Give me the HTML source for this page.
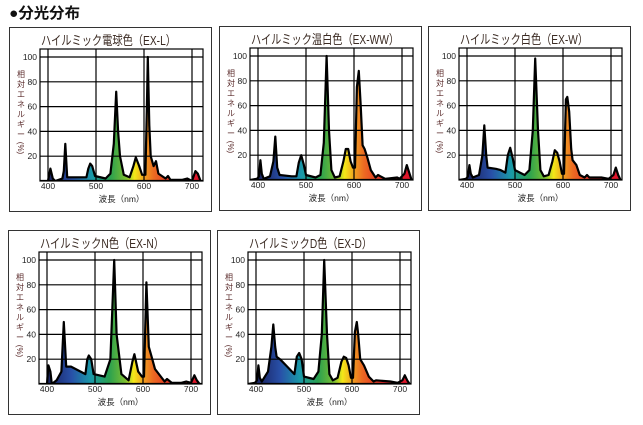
<!DOCTYPE html>
<html><head><meta charset="utf-8">
<style>
html,body{margin:0;padding:0;background:#fff;width:643px;height:425px;overflow:hidden}
svg{display:block}
text{font-family:"Liberation Sans","Noto Sans CJK JP",sans-serif}
</style></head><body>
<svg id="s" width="643" height="425" xmlns="http://www.w3.org/2000/svg" xmlns:xlink="http://www.w3.org/1999/xlink">
<defs>
<linearGradient id="sp" x1="383" x2="723" y1="0" y2="0" gradientUnits="userSpaceOnUse">
<stop offset="0" stop-color="#1a1f55"/>
<stop offset="0.09" stop-color="#1d2c70"/>
<stop offset="0.2" stop-color="#2850a8"/>
<stop offset="0.32" stop-color="#1a9aa8"/>
<stop offset="0.43" stop-color="#2aa050"/>
<stop offset="0.53" stop-color="#7cc030"/>
<stop offset="0.58" stop-color="#f4e818"/>
<stop offset="0.64" stop-color="#f0a020"/>
<stop offset="0.7" stop-color="#ec6a22"/>
<stop offset="0.82" stop-color="#e02828"/>
<stop offset="1" stop-color="#e0102a"/>
</linearGradient>
</defs>
<text x="9" y="18" font-size="15" font-weight="bold" fill="#111" textLength="71" lengthAdjust="spacingAndGlyphs">●分光分布</text>
</svg>
<script>
var S=document.getElementById('s'),NS='http://www.w3.org/2000/svg';
function el(t,a,p){var e=document.createElementNS(NS,t);for(var k in a)e.setAttribute(k,a[k]);(p||S).appendChild(e);return e;}
function txt(x,y,s,a,p){a=a||{};a.x=x;a.y=y;var e=el('text',a,p);e.textContent=s;return e;}
var panels=[
[9,27,"ハイルミック電球色（EX-L）",135,[[383,0],[400,0],[405,10],[410,2],[415,0],[430,2],[433,8],[436,30],[440,3],[480,3],[484,10],[488,14],[492,12],[498,4],[520,2],[530,6],[537,30],[542,72],[546,40],[550,20],[558,5],[570,3],[578,12],[583,19],[590,12],[596,5],[603,5],[606,60],[608,100],[611,45],[614,20],[620,12],[625,16],[630,6],[645,2],[650,4],[655,1],[680,1],[690,2],[700,0],[707,8],[712,6],[718,0],[723,0]]],
[219,26,"ハイルミック温白色（EX-WW）",148,[[383,0],[398,1],[402,3],[405,16],[408,5],[412,1],[425,3],[432,15],[436,35],[440,10],[445,4],[470,3],[480,3],[485,14],[490,20],[495,13],[500,4],[520,2],[530,4],[537,30],[543,100],[548,40],[553,8],[560,2],[570,3],[578,15],[583,25],[588,25],[593,15],[598,10],[602,10],[606,75],[610,88],[614,60],[618,28],[622,25],[628,18],[635,8],[645,2],[650,4],[655,3],[665,1],[690,2],[695,1],[705,5],[710,12],[715,6],[720,0],[723,0]]],
[428,26,"ハイルミック白色（EX-W）",128,[[383,0],[398,1],[402,3],[405,12],[408,5],[412,2],[425,4],[432,20],[436,44],[440,20],[443,10],[460,9],[470,8],[480,6],[485,20],[490,26],[495,18],[500,8],[520,4],[530,8],[537,40],[542,98],[548,40],[553,8],[560,3],[570,4],[578,15],[583,24],[588,22],[593,15],[598,5],[602,5],[606,65],[609,67],[613,55],[617,25],[620,16],[628,12],[635,4],[645,2],[650,4],[655,2],[680,2],[695,1],[705,4],[710,10],[715,4],[720,0],[723,0]]],
[8,230,"ハイルミックN色（EX-N）",124,[[383,0],[400,0],[403,15],[407,10],[410,0],[420,3],[430,10],[435,50],[440,14],[450,14],[470,10],[480,8],[484,20],[487,23],[492,20],[497,8],[520,6],[532,20],[540,100],[545,40],[555,8],[570,3],[578,18],[582,24],[590,10],[598,6],[602,6],[607,82],[612,30],[618,22],[625,12],[635,7],[645,2],[650,4],[660,1],[680,1],[690,2],[700,1],[707,7],[712,3],[718,0],[723,0]]],
[217,230,"ハイルミックD色（EX-D）",123,[[383,0],[398,1],[402,3],[405,15],[408,5],[412,2],[425,10],[432,30],[436,48],[440,30],[443,22],[450,20],[465,14],[475,10],[480,8],[485,22],[490,25],[495,20],[500,6],[520,4],[530,10],[537,40],[542,100],[548,40],[553,8],[560,3],[570,5],[578,18],[583,22],[588,21],[593,15],[598,5],[602,5],[606,42],[610,50],[613,40],[617,20],[625,15],[635,6],[645,2],[650,3],[680,2],[695,1],[705,3],[710,7],[715,3],[720,0],[723,0]]]
];
panels.forEach(function(P,i){
 var bx=P[0],by=P[1];
 el('rect',{x:bx+0.5,y:by+0.5,width:202,height:184,fill:'none',stroke:'#333','stroke-width':1});
 txt(bx+32,by+18,P[2],{'font-size':13,fill:'#3a2a22',textLength:P[3],lengthAdjust:'spacingAndGlyphs'});
 var g=el('g',{transform:'translate('+(bx+31)+','+(by+22)+')'});
 var W=163,H=132;
 function X(nm){return 8+(nm-400)*0.48;}
 function Y(v){return H-v*1.24;}
 var d='M'+X(383)+','+H;
 P[4].forEach(function(p){d+=' L'+X(p[0]).toFixed(1)+','+Y(p[1]).toFixed(1);});
 d+=' L'+X(723)+','+H+' Z';
 var cp=el('clipPath',{id:'c'+i},g);el('rect',{x:0,y:0,width:W,height:H},cp);
 var cg=el('g',{'clip-path':'url(#c'+i+')'},g);
 var gid='sp'+i;
 var lg=el('linearGradient',{id:gid,x1:X(383),x2:X(723),y1:0,y2:0,gradientUnits:'userSpaceOnUse'},g);
 lg.setAttributeNS('http://www.w3.org/1999/xlink','xlink:href','#sp');
 el('path',{d:d,fill:'url(#'+gid+')',stroke:'#000','stroke-width':2.2,'stroke-linejoin':'round'},cg);
 [20,40,60,80,100].forEach(function(v){el('line',{x1:0,x2:W,y1:Y(v),y2:Y(v),stroke:'#000','stroke-width':1.2},g);});
 [400,500,600,700].forEach(function(n){el('line',{x1:X(n),x2:X(n),y1:0,y2:H,stroke:'#000','stroke-width':1.2},g);});
 el('rect',{x:0,y:0,width:W,height:H,fill:'none',stroke:'#000','stroke-width':1.2},g);
 [20,40,60,80,100].forEach(function(v){txt(-3,Y(v)+3,''+v,{'font-size':8.5,fill:'#222','text-anchor':'end'},g);});
 [400,500,600,700].forEach(function(n){txt(X(n),H+8,''+n,{'font-size':8.5,fill:'#222','text-anchor':'middle'},g);});
 txt(W/2,H+21,'波長（nm）',{'font-size':8.5,fill:'#222','text-anchor':'middle'},g);
 var lab=['相','対','エ','ネ','ル','ギ','ー'];
 lab.forEach(function(c,k){txt(-19,28+k*10,c,{'font-size':8,fill:'#5a2a2a','text-anchor':'middle'},g);});
 txt(-19,102,'(%)',{'font-size':8,fill:'#5a2a2a','text-anchor':'middle',transform:'rotate(90,-19,99)'},g);
});
</script>
</body></html>
